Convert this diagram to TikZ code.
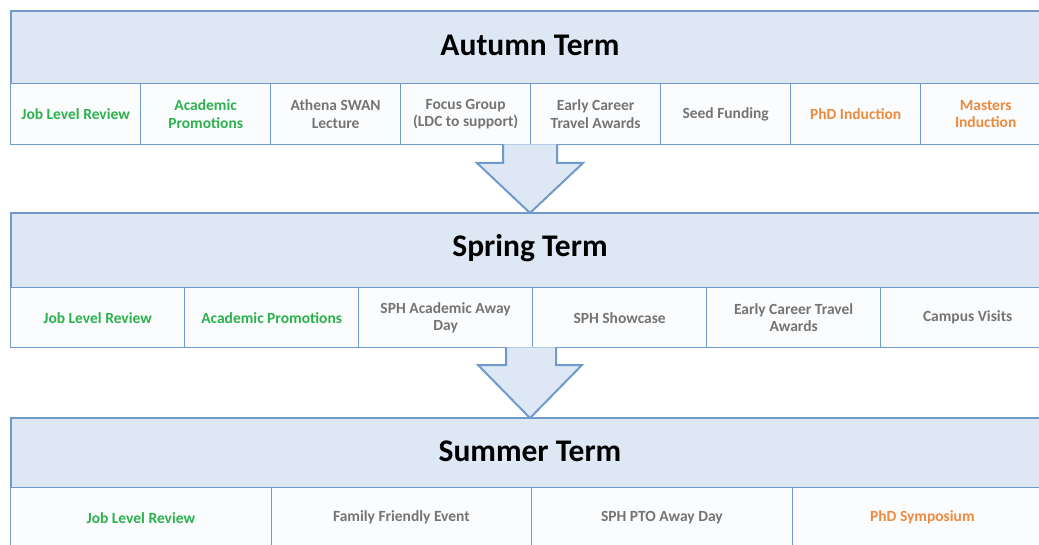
\documentclass[tikz,border=0pt]{standalone}
\usepackage{fontspec}
\setmainfont{Carlito}
\definecolor{bordblue}{HTML}{6F9ACB}
\definecolor{hdrfill}{HTML}{DDE8F4}
\definecolor{cellfill}{HTML}{FBFCFE}
\definecolor{tgreen}{HTML}{2BB24C}
\definecolor{torange}{HTML}{EE8A3C}
\definecolor{tgrey}{HTML}{747474}
\tikzset{
  hdr/.style={draw=bordblue, line width=1.8pt, fill=hdrfill, anchor=north west, inner sep=0pt},
  ttl/.style={font=\fontsize{31.5}{36}\selectfont\bfseries, text=black, inner sep=0pt},
  cell/.style={draw=bordblue, line width=1.3pt, fill=cellfill, anchor=north west, inner sep=0pt,
    align=center, font=\fontsize{15.5}{17.5}\selectfont\bfseries, text=tgrey},
  gr/.style={text=tgreen},
  og/.style={text=torange},
  blockarrow/.style={draw=bordblue, line width=2pt, fill=hdrfill, line join=miter}
}
\begin{document}
\begin{tikzpicture}[x=1pt,y=-1pt]
\useasboundingbox (0,0) rectangle (1039,545);
\fill[white] (0,0) rectangle (1039,545);
% Autumn
\node[hdr, minimum width=1042pt, minimum height=73pt] (aut) at (10,10) {};
\node[ttl] (autt) at (530,45) {Autumn Term};
\foreach \i/\t/\s in {0/{Job Level Review}/gr, 1/{Academic\\Promotions}/gr, 2/{Athena SWAN\\Lecture}/cell,
  3/{Focus Group\\(LDC to support)}/cell, 4/{Early Career\\Travel Awards}/cell, 5/{Seed Funding}/cell,
  6/{PhD Induction}/og, 7/{Masters\\Induction}/og}
  \node[cell, \s, minimum width=130pt, minimum height=61pt] (a\i) at ({10+130*\i},83) {\t};
% Spring
\node[hdr, minimum width=1044pt, minimum height=75pt] (spr) at (10,212) {};
\node[ttl] (sprt) at (530,248) {Spring Term};
\foreach \i/\t/\s in {0/{Job Level Review}/gr, 1/{Academic Promotions}/gr, 2/{SPH Academic Away\\Day}/cell,
  3/{SPH Showcase}/cell, 4/{Early Career Travel\\Awards}/cell, 5/{Campus Visits}/cell}
  \node[cell, \s, minimum width=174pt, minimum height=60pt] (s\i) at ({10+174*\i},287) {\t};
% Summer
\node[hdr, minimum width=1042pt, minimum height=70pt] (sum) at (10,417) {};
\node[ttl] (sumt) at (530,451) {Summer Term};
\foreach \i/\t/\s in {0/{Job Level Review}/gr, 1/{Family Friendly Event}/cell, 2/{SPH PTO Away Day}/cell,
  3/{PhD Symposium}/og}
  \node[cell, \s, minimum width=260.5pt, minimum height=60pt] (u\i) at ({10+260.5*\i},487) {\t};
% Arrows
\draw[blockarrow] (503,144.5) -- (503,163) -- (477,163) -- (530,213) -- (583,163) -- (557,163) -- (557,144.5);
\draw[blockarrow] (506,347.5) -- (506,365) -- (478,365) -- (530,418) -- (582,365) -- (556,365) -- (556,347.5);
\end{tikzpicture}
\end{document}
